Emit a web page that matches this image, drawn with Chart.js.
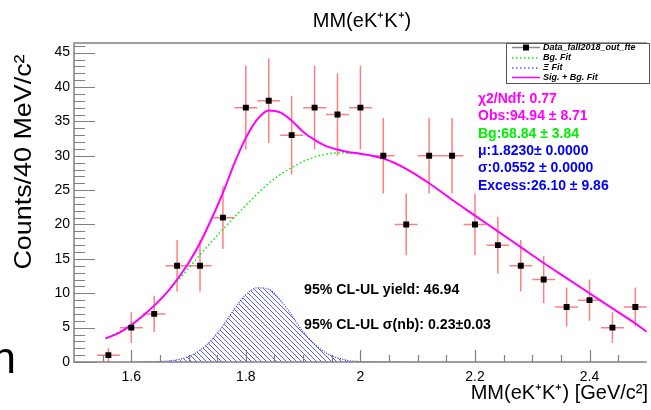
<!DOCTYPE html>
<html>
<head>
<meta charset="utf-8">
<script src="https://cdn.jsdelivr.net/npm/chart.js@4.4.1/dist/chart.umd.min.js"></script>
<style>
    body { margin: 0; background: #fff; }
    canvas { display: block; }
</style>
</head>
<body>
<canvas id="myChart" width="651" height="410"></canvas>
<script>
// histogram: 40 MeV bins
const binCenters = [1.56, 1.60, 1.64, 1.68, 1.72, 1.76, 1.80, 1.84, 1.88, 1.92, 1.96, 2.00,
    2.04, 2.08, 2.12, 2.16, 2.20, 2.24, 2.28, 2.32, 2.36, 2.40, 2.44, 2.48];
const counts = [1, 5, 7, 14, 14, 21, 37, 38, 33, 37, 36, 37,
    30, 20, 30, 30, 20, 17, 14, 12, 8, 9, 5, 8];
const countErrors = [1, 2.24, 2.65, 3.74, 3.74, 4.58, 6.08, 6.16, 5.74, 6.08, 6, 6.08,
    5.48, 4.47, 5.48, 5.48, 4.47, 4.12, 3.74, 3.46, 2.83, 3, 2.24, 2.83];
const binHalfWidth = 0.02;

// Sig. + Bg. fit (magenta)
const totalX = [1.555, 1.58, 1.60, 1.62, 1.64, 1.66, 1.68, 1.70, 1.72, 1.74, 1.76, 1.78,
    1.80, 1.82, 1.84, 1.86, 1.88, 1.90, 1.92, 1.94, 1.96, 1.98, 2.00, 2.04,
    2.08, 2.12, 2.16, 2.20, 2.24, 2.28, 2.32, 2.36, 2.40, 2.44, 2.48, 2.50];
const totalFit = [3.4, 4.3, 5.4, 6.7, 8.2, 9.9, 12.0, 14.4, 17.3, 20.8, 24.6, 28.9,
    32.6, 35.3, 36.6, 36.3, 35.1, 33.5, 32.3, 31.4, 30.9, 30.5, 30.3, 29.6,
    28.1, 26.0, 23.6, 21.3, 19.0, 16.7, 14.4, 12.2, 10.0, 7.8, 5.6, 4.4];

// Bg. fit (green)
const bgX = [1.555, 1.60, 1.64, 1.68, 1.72, 1.76, 1.80, 1.84, 1.88, 1.92, 1.96, 2.00];
const bgFit = [3.4, 5.4, 8.2, 11.7, 15.6, 19.3, 22.8, 26.0, 28.3, 29.8, 30.4, 30.3];

// Xi fit (blue hatched)
const xiX = [1.60, 1.64, 1.68, 1.70, 1.72, 1.74, 1.76, 1.78, 1.80, 1.82, 1.84, 1.86,
    1.88, 1.90, 1.92, 1.94, 1.96, 1.98, 2.00, 2.04, 2.08];
const xiFit = [0, 0.04, 0.33, 0.8, 1.7, 3.2, 5.3, 7.7, 9.8, 10.8, 10.6, 9.0,
    6.8, 4.4, 2.6, 1.3, 0.6, 0.2, 0.08, 0, 0];

const xTicks = [1.6, 1.8, 2, 2.2, 2.4];
const yTicks = [0, 5, 10, 15, 20, 25, 30, 35, 40, 45];

const statLines = [
    { text: 'χ2/Ndf: 0.77', color: '#ff00ff' },
    { text: 'Obs:94.94 ± 8.71', color: '#ff00ff' },
    { text: 'Bg:68.84 ± 3.84', color: '#00ee00' },
    { text: 'μ:1.8230± 0.0000', color: '#0000ff' },
    { text: 'σ:0.0552 ± 0.0000', color: '#0000ff' },
    { text: 'Excess:26.10 ± 9.86', color: '#0000ff' }
];
const clLines = ['95% CL-UL yield: 46.94', '95% CL-UL σ(nb): 0.23±0.03'];

const FONT = "'Liberation Sans', Arial, Helvetica, sans-serif";
const axisGrey = '#808080';

function pairs(xs, ys) {
    return xs.map((x, i) => ({ x: x, y: ys[i] }));
}

// hatch pattern for the Xi fit
const hatch = document.createElement('canvas');
hatch.width = 5;
hatch.height = 5;
const hctx = hatch.getContext('2d');
hctx.strokeStyle = '#4646ff';
hctx.lineWidth = 0.9;
hctx.beginPath();
hctx.moveTo(-1, -1); hctx.lineTo(6, 6);
hctx.moveTo(-1, 4); hctx.lineTo(1, 6);
hctx.moveTo(4, -1); hctx.lineTo(6, 1);
hctx.stroke();
const hatchPattern = hctx.createPattern(hatch, 'repeat');

const rootStyle = {
    id: 'rootStyle',
    beforeDatasetsDraw(chart) {
        const { ctx, chartArea, scales } = chart;
        const xs = scales.x, ys = scales.y;
        ctx.save();
        ctx.beginPath();
        ctx.rect(chartArea.left, chartArea.top, chartArea.right - chartArea.left, chartArea.bottom - chartArea.top);
        ctx.clip();
        ctx.strokeStyle = 'rgba(255, 95, 95, 0.8)';
        ctx.lineWidth = 1.5;
        binCenters.forEach((c, i) => {
            const px = xs.getPixelForValue(c);
            const py = ys.getPixelForValue(counts[i]);
            ctx.beginPath();
            ctx.moveTo(xs.getPixelForValue(c - binHalfWidth), py);
            ctx.lineTo(xs.getPixelForValue(c + binHalfWidth), py);
            ctx.moveTo(px, ys.getPixelForValue(Math.max(0, counts[i] - countErrors[i])));
            ctx.lineTo(px, ys.getPixelForValue(counts[i] + countErrors[i]));
            ctx.stroke();
        });
        ctx.restore();
    },
    afterDraw(chart) {
        const { ctx, chartArea, scales } = chart;
        const xs = scales.x, ys = scales.y;
        const L = chartArea.left, R = chartArea.right, T = chartArea.top, B = chartArea.bottom;
        ctx.save();

        // frame
        ctx.strokeStyle = axisGrey;
        ctx.lineWidth = 1.5;
        ctx.beginPath();
        ctx.moveTo(R, T); ctx.lineTo(L, T); ctx.lineTo(L, B); ctx.lineTo(R, B);
        ctx.stroke();

        // ticks inside the frame
        ctx.lineWidth = 1.2;
        ctx.beginPath();
        for (let v = 0; v <= 46; v++) {
            const py = Math.round(ys.getPixelForValue(v)) + 0.5;
            const len = v % 5 === 0 ? 21 : 11;
            ctx.moveTo(L, py); ctx.lineTo(L + len, py);
        }
        for (let k = 1; k < 20; k++) {
            const v = 1.5 + k * 0.05;
            const px = Math.round(xs.getPixelForValue(v)) + 0.5;
            const len = k % 4 === 2 ? 12 : 7;
            ctx.moveTo(px, B); ctx.lineTo(px, B - len);
        }
        ctx.stroke();

        // titles
        ctx.fillStyle = '#000';
        ctx.textBaseline = 'middle';
        ctx.textAlign = 'center';
        ctx.font = '20px ' + FONT;
        ctx.fillText('MM(eK⁺K⁺)', 362, 21);
        ctx.textAlign = 'right';
        ctx.fillText('MM(eK⁺K⁺) [GeV/c²]', 648, 393);
        ctx.save();
        ctx.translate(24, 162);
        ctx.rotate(-Math.PI / 2);
        ctx.scale(1.12, 1);
        ctx.textAlign = 'center';
        ctx.font = '24px ' + FONT;
        ctx.fillText('Counts/40 MeV/c²', 0, 0);
        ctx.restore();

        // stray glyph at the lower left
        ctx.textAlign = 'left';
        ctx.textBaseline = 'alphabetic';
        ctx.font = '44px ' + FONT;
        ctx.fillText('n', -8.5, 373);

        // legend
        const lx = 506, ly = 43, lw = 143, lh = 40;
        ctx.fillStyle = '#fff';
        ctx.fillRect(lx, ly, lw, lh);
        ctx.strokeStyle = '#555';
        ctx.lineWidth = 1;
        ctx.strokeRect(lx + 0.5, ly + 0.5, lw, lh);
        const rows = [47.5, 58, 68, 77.5];
        ctx.lineWidth = 1.5;
        ctx.strokeStyle = '#888';
        ctx.beginPath(); ctx.moveTo(512, rows[0]); ctx.lineTo(540, rows[0]); ctx.stroke();
        ctx.fillStyle = '#000';
        ctx.fillRect(523, rows[0] - 3, 6, 6);
        ctx.setLineDash([1.5, 2.5]);
        ctx.strokeStyle = '#00ee00';
        ctx.beginPath(); ctx.moveTo(512, rows[1]); ctx.lineTo(540, rows[1]); ctx.stroke();
        ctx.strokeStyle = '#5555ff';
        ctx.beginPath(); ctx.moveTo(512, rows[2]); ctx.lineTo(540, rows[2]); ctx.stroke();
        ctx.setLineDash([]);
        ctx.strokeStyle = '#ff00ff';
        ctx.beginPath(); ctx.moveTo(512, rows[3]); ctx.lineTo(540, rows[3]); ctx.stroke();
        ctx.fillStyle = '#000';
        ctx.textBaseline = 'middle';
        ctx.font = 'italic bold 9px ' + FONT;
        ['Data_fall2018_out_fte', 'Bg. Fit', 'Ξ Fit', 'Sig. + Bg. Fit'].forEach((t, i) => {
            ctx.fillText(t, 543, rows[i]);
        });

        // fit results
        ctx.font = 'bold 14px ' + FONT;
        statLines.forEach((s, i) => {
            ctx.fillStyle = s.color;
            ctx.fillText(s.text, 478, 99 + i * 17.4);
        });
        ctx.fillStyle = '#000';
        ctx.font = 'bold 14.2px ' + FONT;
        ctx.fillText(clLines[0], 304, 290);
        ctx.fillText(clLines[1], 304, 325);

        ctx.restore();
    }
};

const ctx = document.querySelector('#myChart');
new Chart(ctx, {
    type: 'line',
    data: {
        datasets: [
            {
                label: 'Data_fall2018_out_fte',
                type: 'scatter',
                data: pairs(binCenters, counts),
                showLine: false,
                pointStyle: 'rect',
                pointRadius: 4.2,
                pointBackgroundColor: '#000',
                pointBorderColor: '#000',
                pointBorderWidth: 0
            },
            {
                label: 'Sig. + Bg. Fit',
                data: pairs(totalX, totalFit),
                borderColor: '#ff00ff',
                borderWidth: 2,
                pointRadius: 0,
                cubicInterpolationMode: 'monotone',
                fill: false
            },
            {
                label: 'Bg. Fit',
                data: pairs(bgX, bgFit),
                borderColor: '#00ee00',
                borderWidth: 1.5,
                borderDash: [1.5, 2.5],
                pointRadius: 0,
                cubicInterpolationMode: 'monotone',
                fill: false
            },
            {
                label: 'Ξ Fit',
                data: pairs(xiX, xiFit),
                borderColor: '#3333ff',
                borderWidth: 1.2,
                borderDash: [1, 1.5],
                backgroundColor: hatchPattern,
                pointRadius: 0,
                cubicInterpolationMode: 'monotone',
                fill: 'origin'
            }
        ]
    },
    options: {
        responsive: false,
        animation: false,
        layout: { padding: { top: 43, left: 0, right: 0, bottom: 0 } },
        plugins: {
            legend: { display: false },
            tooltip: { enabled: false },
            title: { display: false }
        },
        scales: {
            x: {
                type: 'linear',
                min: 1.5,
                max: 2.5,
                afterBuildTicks: (scale) => { scale.ticks = xTicks.map(v => ({ value: v })); },
                afterFit: (scale) => { scale.height = 48; },
                grid: { display: false, drawTicks: false },
                border: { display: false },
                ticks: {
                    padding: 7,
                    maxRotation: 0,
                    color: '#000',
                    font: { family: FONT, size: 14 },
                    callback: (v) => String(v)
                }
            },
            y: {
                type: 'linear',
                min: 0,
                max: 46.4,
                afterBuildTicks: (scale) => { scale.ticks = yTicks.map(v => ({ value: v })); },
                afterFit: (scale) => { scale.width = 74; },
                grid: { display: false, drawTicks: false },
                border: { display: false },
                ticks: {
                    padding: 4,
                    color: '#000',
                    font: { family: FONT, size: 14 },
                    callback: (v) => String(v)
                }
            }
        }
    },
    plugins: [rootStyle]
});
</script>
</body>
</html>
